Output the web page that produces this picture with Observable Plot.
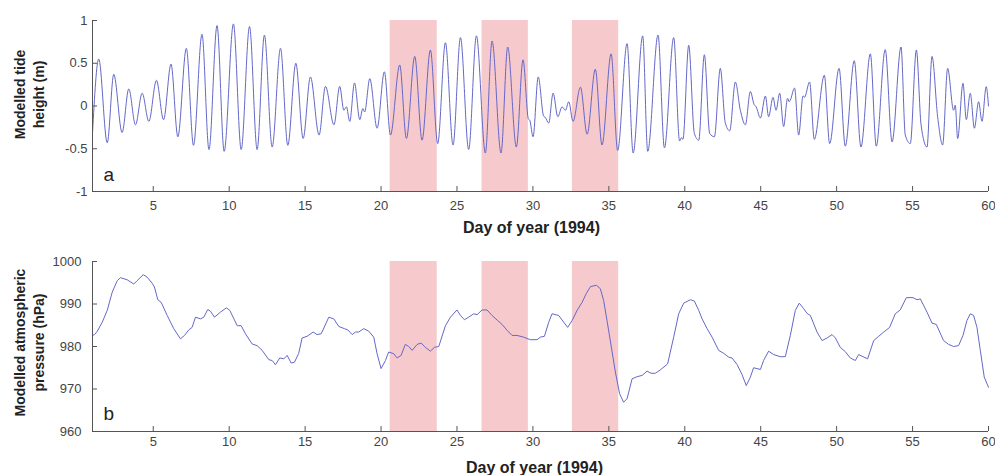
<!DOCTYPE html>
<html><head><meta charset="utf-8">
<script src="https://cdn.jsdelivr.net/npm/d3@7"></script>
<script src="https://cdn.jsdelivr.net/npm/@observablehq/plot@0.6"></script>
<style>
body{margin:0;background:#fff;}
#chart{width:995px;height:475px;overflow:hidden;}
svg{display:block}
</style></head><body><div id="chart"></div>
<script>
// Modelled tide: extremes (day, metres)
const tideDay = [1.0,1.41,1.97,2.40,2.95,3.39,3.83,4.27,4.71,5.21,5.68,6.17,6.62,7.18,7.65,8.21,8.67,9.20,9.67,10.28,
  10.79,11.34,11.84,12.32,12.83,13.38,13.86,14.39,14.87,15.35,15.92,16.34,16.90,17.28,17.55,17.72,17.94,18.25,18.60,18.80,18.92,19.26,
  19.74,20.22,20.62,21.23,21.67,22.22,22.70,23.25,23.73,24.24,24.74,25.23,25.77,26.28,26.87,27.31,27.90,28.34,28.91,29.35,29.70,29.80,
  30.01,30.35,30.71,30.80,31.04,31.33,31.64,31.92,32.14,32.36,32.64,33.13,33.57,34.11,34.55,35.15,35.58,36.20,36.60,37.23,37.56,38.24,
  38.66,39.27,39.66,39.78,39.88,40.26,40.63,40.92,41.29,41.64,41.95,42.34,42.67,42.96,43.33,43.66,43.99,44.32,44.56,44.70,44.98,45.31,
  45.52,45.81,46.01,46.25,46.51,46.77,46.87,46.95,47.23,47.50,47.79,47.88,48.22,48.53,49.19,49.54,50.16,50.57,51.16,51.60,52.22,52.61,
  53.20,53.65,54.24,54.52,54.85,55.25,55.56,55.95,56.28,56.65,56.98,57.31,57.70,57.81,57.97,58.32,58.54,58.80,59.07,59.35,59.57,59.85,60.0];
const tideHeight = [-0.32,0.55,-0.43,0.37,-0.31,0.20,-0.22,0.15,-0.18,0.30,-0.16,0.49,-0.36,0.675,-0.46,0.84,-0.51,0.94,-0.53,0.96,
  -0.51,0.93,-0.51,0.83,-0.48,0.675,-0.46,0.50,-0.38,0.34,-0.34,0.23,-0.22,0.23,-0.05,-0.01,-0.18,0.27,-0.16,-0.03,-0.07,0.32,
  -0.26,0.40,-0.34,0.48,-0.38,0.58,-0.40,0.655,-0.44,0.74,-0.456,0.80,-0.51,0.82,-0.55,0.76,-0.55,0.69,-0.48,0.54,-0.15,-0.17,
  -0.36,0.34,-0.12,-0.13,-0.20,0.15,-0.125,-0.01,-0.05,0.05,-0.18,0.22,-0.33,0.43,-0.456,0.61,-0.52,0.73,-0.55,0.82,-0.53,0.83,
  -0.49,0.80,-0.41,-0.37,-0.39,0.71,-0.32,-0.40,0.60,-0.32,-0.36,0.44,-0.20,-0.29,0.28,-0.05,-0.22,0.17,0.02,-0.01,-0.14,0.117,
  -0.125,0.10,-0.05,0.15,-0.24,0.09,0.05,0.07,0.21,-0.34,0.12,0.10,0.28,-0.39,0.36,-0.44,0.44,-0.47,0.53,-0.48,0.61,-0.47,
  0.66,-0.42,0.69,-0.34,-0.44,0.655,-0.22,-0.48,0.58,-0.125,-0.456,0.44,-0.05,0.01,-0.38,0.265,-0.16,0.15,-0.26,0.05,-0.18,0.226,0.0];

// Modelled atmospheric pressure (day, hPa)
const pressDay = [1.0,1.13,1.30,1.64,1.97,2.30,2.63,2.84,3.28,3.72,3.94,4.34,4.60,4.93,5.08,5.30,5.52,5.92,6.35,6.79,7.06,7.34,7.56,7.78,
  8.11,8.33,8.59,8.77,9.03,9.43,9.82,10.04,10.53,10.79,11.07,11.51,11.84,12.17,12.61,12.83,13.05,13.33,13.60,13.82,14.08,14.30,14.58,14.80,
  15.13,15.53,15.79,16.06,16.56,16.89,17.22,17.59,17.81,18.10,18.31,18.53,18.86,19.19,19.52,19.74,20.00,20.29,20.50,20.84,21.06,21.32,21.60,
  21.82,22.05,22.38,22.64,22.92,23.25,23.51,23.80,24.24,24.57,25.00,25.23,25.49,25.77,26.10,26.33,26.65,26.98,27.31,27.68,27.97,28.30,28.63,
  28.96,29.39,29.83,30.28,30.49,30.76,31.04,31.26,31.70,32.03,32.29,32.58,32.91,33.24,33.52,33.79,34.18,34.44,34.66,34.88,35.15,35.43,35.71,
  35.97,36.20,36.53,36.86,37.19,37.52,37.78,38.06,38.39,38.87,39.27,39.60,39.93,40.37,40.63,40.92,41.14,41.47,41.80,42.23,42.56,42.89,43.11,
  43.44,43.77,44.05,44.32,44.53,44.76,44.98,45.19,45.52,45.85,46.29,46.62,46.95,47.28,47.54,47.83,48.05,48.27,48.71,49.04,49.37,49.70,49.92,
  50.24,50.57,50.90,51.23,51.45,51.74,52.04,52.44,52.77,53.10,53.49,53.86,54.19,54.59,55.03,55.29,55.51,55.95,56.28,56.56,57.04,57.37,57.70,
  58.03,58.32,58.58,58.80,59.02,59.24,59.46,59.72,60.0];
const pressHPa = [982.6,982.8,983.5,985.7,988.5,992.8,995.5,996.2,995.7,994.7,995.5,996.9,996.3,994.9,994.0,991.0,990.4,987.3,984.2,981.8,982.6,983.9,984.5,986.9,
  986.5,986.9,988.7,988.3,986.9,988.1,989.1,988.5,984.9,984.9,983.0,980.6,980.2,979.1,976.9,976.7,975.7,977.3,977.1,977.9,976.1,976.3,978.4,982.0,
  982.4,983.4,982.8,983.0,986.9,986.5,984.7,984.2,983.9,982.8,983.4,983.4,984.2,983.6,982.2,978.3,974.8,976.7,978.7,978.3,977.3,977.9,980.5,
  980.0,979.1,980.5,980.8,979.8,978.9,979.8,980.0,984.9,986.9,988.6,987.3,986.3,986.9,987.7,987.5,988.6,988.6,987.3,986.1,985.2,983.8,982.6,
  982.6,982.2,981.6,981.6,982.2,982.4,985.7,987.7,987.3,985.7,984.5,986.1,988.5,990.4,992.5,994.1,994.4,993.6,990.8,986.1,980.2,974.0,968.9,
  966.9,967.7,972.4,972.9,973.2,974.2,973.7,973.7,974.5,975.9,982.2,987.7,990.2,991.0,990.7,988.5,986.5,984.2,982.2,979.1,978.4,977.5,977.3,
  975.8,973.4,970.8,972.8,975.0,974.8,974.6,976.7,978.9,978.1,977.6,977.6,982.6,988.5,990.2,988.9,987.8,987.3,983.4,981.4,982.0,982.8,982.0,
  979.8,978.8,977.3,976.7,978.1,977.6,977.1,981.4,982.4,983.4,984.5,987.7,988.6,991.5,991.5,991.0,991.2,988.1,985.5,985.2,981.4,980.5,980.0,
  980.2,982.6,986.1,987.7,987.3,984.5,979.1,972.8,970.4];

const bandStart = [20.6, 26.65, 32.6];
const bandEnd = [23.7, 29.7, 35.65];
const xTicks = [5,10,15,20,25,30,35,40,45,50,55,60];
const tideTicks = [-1,-0.5,0,0.5,1];
const pressTicks = [960,970,980,990,1000];

const tideRows = tideDay.map((d,i)=>({day:d, h:tideHeight[i]}));
const pressRows = pressDay.map((d,i)=>({day:d, p:pressHPa[i]}));
const bandRows = bandStart.map((s,i)=>({x1:s, x2:bandEnd[i]}));

const FONT = "'Liberation Sans', Arial, Helvetica, sans-serif";
const LINE = "#6468c8";
const PINK = "#f6c9cd";
const AX = "#555";

function panel({data, yKey, yDomain, yTicks, height, mt, mb, ylabel, ylabelDy, letter, letterDy, xTickPad, yTickPad, xlabDx, xlabDy, curve}) {
  return Plot.plot({
    width: 995, height, marginTop: mt, marginBottom: mb, marginLeft: 92, marginRight: 7,
    x: {domain: [1, 60]},
    y: {domain: yDomain},
    style: {fontFamily: FONT, fontSize: "13px", color: "#444", background: "white", overflow: "visible"},
    marks: [
      Plot.rect(bandRows, {x1: "x1", x2: "x2", fill: PINK}),
      Plot.line(data, {x: "day", y: yKey, stroke: LINE, strokeWidth: 1, curve}),
      Plot.ruleX([1], {stroke: AX}),
      Plot.ruleY([yDomain[0]], {stroke: AX}),
      Plot.axisX({ticks: xTicks, tickSize: -5, tickPadding: xTickPad, label: null, stroke: AX, fill: "#444"}),
      Plot.axisY({ticks: yTicks, tickSize: -5, tickPadding: yTickPad, tickFormat: d => String(d), label: null, stroke: AX, fill: "#444"}),
      Plot.text([ylabel], {text: d => d, frameAnchor: "left", rotate: -90, dx: -64, dy: ylabelDy,
        fontSize: 14, fontWeight: "bold", fill: "#222", lineHeight: 1.38, textAnchor: "middle", lineAnchor: "middle"}),
      Plot.text([letter], {text: d => d, frameAnchor: "bottom-left", dx: 11, dy: letterDy, fontSize: 19, fill: "#222", textAnchor: "start", lineAnchor: "bottom"}),
      Plot.text(["Day of year (1994)"], {text: d => d, frameAnchor: "bottom", dx: xlabDx, dy: xlabDy, fontSize: 16, fontWeight: "bold", fill: "#222", lineAnchor: "middle"})
    ]
  });
}

const topPanel = panel({data: tideRows, yKey: "h", yDomain: [-1, 1], yTicks: tideTicks, height: 240, mt: 20, mb: 49,
  ylabel: "Modelled tide\nheight (m)", ylabelDy: -11.5, letter: "a", letterDy: -11, xTickPad: 14, yTickPad: 10,
  xlabDx: -9, xlabDy: 36, curve: "monotone-x"});
const bottomPanel = panel({data: pressRows, yKey: "p", yDomain: [960, 1000], yTicks: pressTicks, height: 235, mt: 21, mb: 44,
  ylabel: "Modelled atmospheric\npressure (hPa)", ylabelDy: -4, letter: "b", letterDy: -12, xTickPad: 10.5, yTickPad: 16,
  xlabDx: -6, xlabDy: 36, curve: "linear"});

document.getElementById("chart").append(topPanel, bottomPanel);
</script></body></html>
